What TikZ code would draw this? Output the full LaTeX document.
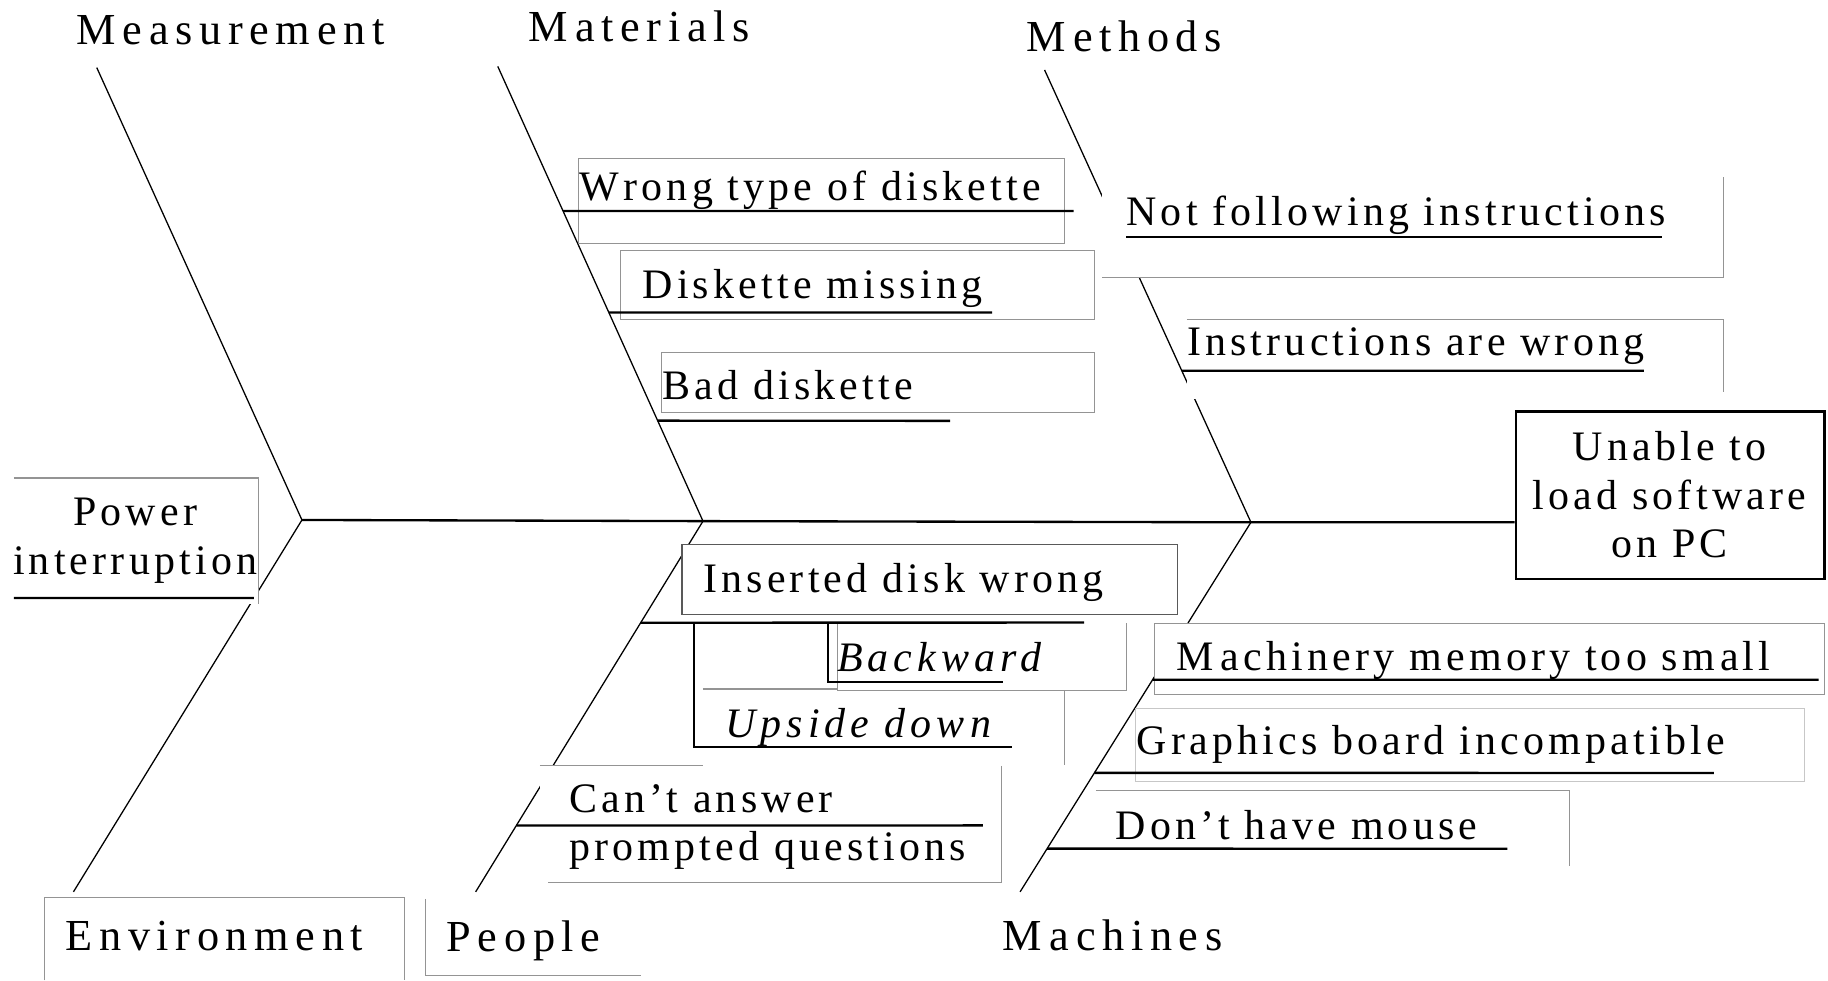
\documentclass[tikz,border=0pt]{standalone}
\usepackage{fontspec}
\setmainfont{Liberation Serif}
\newfontfamily\causefont{Liberation Serif}[LetterSpace=10]
\newfontfamily\titlefont{Liberation Serif}[LetterSpace=15]
\newfontfamily\subcausefont{Liberation Serif}[LetterSpace=12]
\usetikzlibrary{calc}
\newcommand\Mk{M\kern0.17em}
\begin{document}
\begin{tikzpicture}[x=1pt,y=-1pt,
  bone/.style={line width=1.1pt},
  spine/.style={line width=2pt},
  uline/.style={line width=2pt},
  frame/.style={draw=black!42,line width=0.9pt},
  darkframe/.style={draw=black!65,line width=0.9pt},
  lightframe/.style={draw=black!22,line width=0.9pt},
  cover/.style={fill=white},
  effectbox/.style={draw=black,line width=1.8pt,minimum width=265pt,minimum height=144pt,inner sep=0pt},
  ttl/.style={anchor=base west,inner sep=0pt,font=\titlefont\fontsize{38}{46}\selectfont},
  cause/.style={anchor=base west,inner sep=0pt,font=\causefont\fontsize{36}{42}\selectfont},
  ccause/.style={anchor=base,inner sep=0pt,font=\causefont\fontsize{36}{42}\selectfont},
  subcause/.style={anchor=base west,inner sep=0pt,font=\subcausefont\itshape\fontsize{36}{42}\selectfont}]
\useasboundingbox (0,0) rectangle (1568,841);

% skeleton points
\coordinate (mTop) at (83,58);
\coordinate (v1) at (259,446);
\coordinate (eBot) at (63,765);
\coordinate (matTop) at (427,57);
\coordinate (v2) at (603,447);
\coordinate (pBot) at (408,765);
\coordinate (metTop) at (896,60);
\coordinate (v3) at (1073,448);
\coordinate (macBot) at (875,765);

% effect box
\node[effectbox] (effect) at (1432.5,425) {};

% spine and main bones
\draw[spine] (v1) -- (v2) -- (v3) -- (v3 -| effect.west);
\draw[bone] (mTop) -- (v1) -- (eBot);
\draw[bone] (matTop) -- (v2) -- (pBot);
\draw[bone] (metTop) -- (v3) -- (macBot);

% white backgrounds of the cause boxes
\fill[cover] (12,410) rectangle (222,518);
\fill[cover] (496,136) rectangle (913,209);
\fill[cover] (532,215) rectangle (939,274);
\fill[cover] (567,302) rectangle (939,354);
\fill[cover] (945,150) rectangle (1478,238);
\fill[cover] (1018,274) rectangle (1478,342);
\fill[cover] (585,467) rectangle (1010,527);
\fill[cover] (718,537) rectangle (966,592);
\fill[cover] (603,592) rectangle (913,656);
\fill[cover] (463,657) rectangle (859,757);
\fill[cover] (990,535) rectangle (1565,596);
\fill[cover] (974,608) rectangle (1548,670);
\fill[cover] (940,678) rectangle (1346,743);
\fill[cover] (38,770) rectangle (347,841);
\fill[cover] (365,771) rectangle (550,837);

% box outlines
\draw[frame] (12,410) -- (222,410) -- (222,518);
\draw[frame] (496,136) rectangle (913,209);
\draw[frame] (532,215) rectangle (939,274);
\draw[frame] (567,302) rectangle (939,354);
\draw[frame] (1478,152) -- (1478,238) -- (945,238);
\draw[frame] (1018,274) -- (1478,274) -- (1478,336);
\draw[darkframe] (585,467) rectangle (1010,527);
\draw[frame] (718,534) -- (718,592) -- (966,592) -- (966,534);
\draw[frame] (603,591) -- (718,591);
\draw[frame] (913,592) -- (913,656);
\draw[frame] (463,657) -- (603,657);
\draw[frame] (859,657) -- (859,757) -- (470,757);
\draw[frame] (990,535) rectangle (1565,596);
\draw[lightframe] (974,608) rectangle (1548,670);
\draw[frame] (940,678) -- (1346,678) -- (1346,743);
\draw[frame] (38,841) -- (38,770) -- (347,770) -- (347,841);
\draw[frame] (365,771) -- (365,837) -- (550,837);

% category titles
\node[ttl] (tMeas) at (65,38) {\Mk easurement};
\node[ttl] (tMat) at (453,36) {\Mk aterials};
\node[ttl] (tMeth) at (880,44) {\Mk ethods};
\node[ttl] (tEnv) at (56,815) {Environment};
\node[ttl] (tPeo) at (383,816) {People};
\node[ttl] (tMac) at (860,815) {\Mk achines};

% effect text
\node[ccause] (eff1) at (1432,395) {Unable to};
\node[ccause] (eff2) at (1432,437) {load software};
\node[ccause] (eff3) at (1432,478) {on PC};

% causes
\node[ccause] (cPow1) at (116,451) {Power};
\node[ccause] (cPow2) at (116,493) {interruption};
\node[cause] (cWrong) at (497,172) {W\kern0.1em rong type of diskette};
\node[cause] (cMiss) at (551,256) {Diskette missing};
\node[cause] (cBad) at (568,343) {Bad diskette};
\node[cause] (cNot) at (966,193) {Not following instructions};
\node[cause] (cInstr) at (1018,305) {Instructions are wrong};
\node[cause] (cIns) at (603,508) {Inserted disk wrong};
\node[subcause] (cBack) at (718,576) {Backward};
\node[subcause] (cUp) at (622,633) {Upside down};
\node[cause] (cCant1) at (488,697) {Can’t answer};
\node[cause] (cCant2) at (488,738) {prompted questions};
\node[cause] (cMem) at (1009,575) {\Mk achinery memory too sm\kern0.12em all};
\node[cause] (cGra) at (975,647) {Graphics board incompatible};
\node[cause] (cMou) at (957,720) {Don’t have mouse};

% points where the cause lines leave the bones
\coordinate (bPow) at ($(v1)!0.21!(eBot)$);
\coordinate (bWrong) at ($(matTop)!0.318!(v2)$);
\coordinate (bMiss) at ($(matTop)!0.541!(v2)$);
\coordinate (bBad) at ($(matTop)!0.779!(v2)$);
\coordinate (bInstr) at ($(metTop)!0.665!(v3)$);
\coordinate (bIns) at ($(v2)!0.274!(pBot)$);
\coordinate (bCant) at ($(v2)!0.821!(pBot)$);
\coordinate (bMem) at ($(v3)!0.426!(macBot)$);
\coordinate (bGra) at ($(v3)!0.678!(macBot)$);
\coordinate (bMou) at ($(v3)!0.883!(macBot)$);

% cause lines
\draw[uline] (bPow) -- (12,513);
\draw[uline] (bWrong) -- (921,181);
\draw[uline] (bMiss) -- (851,268);
\draw[uline] (bBad) -- (815,361);
\draw[uline] (966,203) -- (1426,203);
\draw[uline] (bInstr) -- (1410,318);
\draw[uline] (bIns) -- (930,534);
\coordinate (upTop) at (595,534);
\coordinate (backTop) at (710,534);
\draw[uline] (upTop) -- (595,641) -- (868,641);
\draw[uline] (backTop) -- (710,585) -- (860,585);
\draw[uline] (bCant) -- (843,708);
\draw[uline] (bMem) -- (1560,583);
\draw[uline] (bGra) -- (1470,663);
\draw[uline] (bMou) -- (1293,728);
\end{tikzpicture}
\end{document}
